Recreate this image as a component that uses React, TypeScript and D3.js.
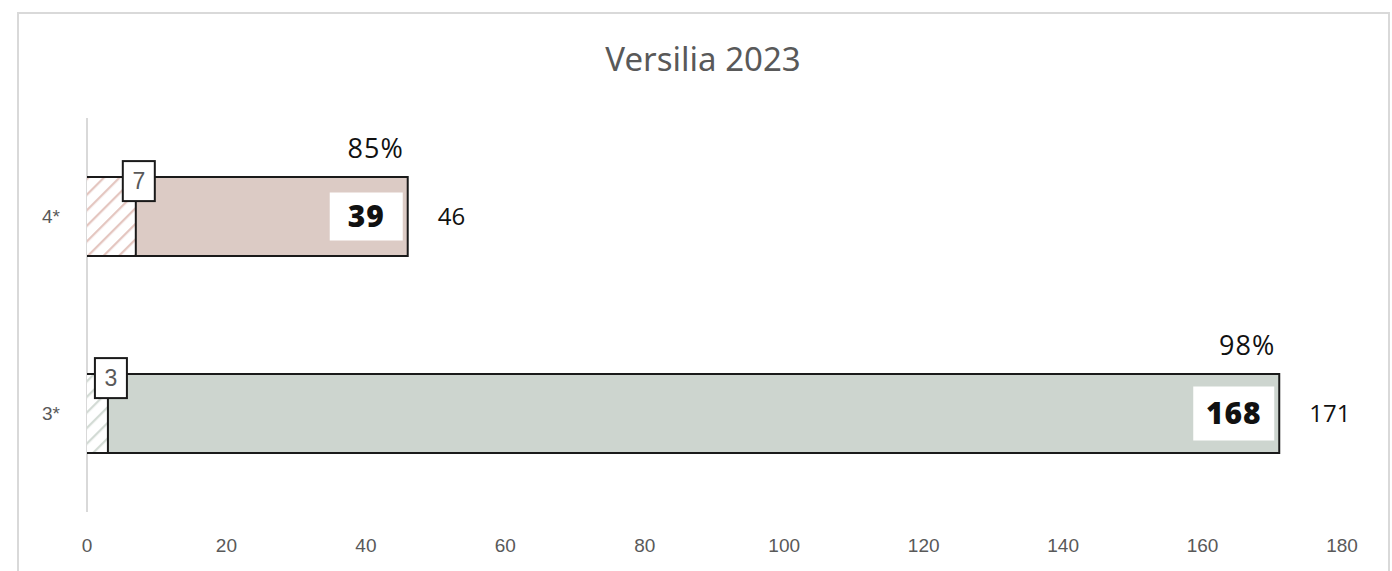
import React from "react";
import * as d3 from "d3";

// Hotel categories and counts
const categories = ["4*", "3*"];
const excludedCounts = [7, 3];
const includedCounts = [39, 168];
const totalCounts = [46, 171];
const xTicks = [0, 20, 40, 60, 80, 100, 120, 140, 160, 180];

const fills = ["#dccbc5", "#cdd5cf"];
const hatchColors = ["#e4c6c0", "#d3dbd5"];

const W = 1392;
const H = 571;

export default function App() {
  const x = d3.scaleLinear().domain([0, 180]).range([87, 1342]);
  const y = d3
    .scaleBand<string>()
    .domain(categories)
    .range([118, 512])
    .paddingInner(0.6)
    .paddingOuter(0.3);
  const bw = y.bandwidth();
  const pctFmt = d3.format(".0%");

  return (
    <div style={{ position: "fixed", left: 0, top: 0 }}>
      <svg width={W} height={H} style={{ display: "block", background: "#fff" }}>
        <defs>
          {categories.map((c, i) => (
            <pattern
              key={c}
              id={`hatch-${i}`}
              patternUnits="userSpaceOnUse"
              width={11}
              height={11}
              patternTransform="rotate(45)"
            >
              <rect width={11} height={11} fill="#fff" />
              <line x1={0} y1={0} x2={0} y2={11} stroke={hatchColors[i]} strokeWidth={4.5} />
            </pattern>
          ))}
        </defs>

        {/* chart frame */}
        <rect x={18} y={13} width={1371} height={H + 20} fill="none" stroke="#d9d9d9" strokeWidth={2} />

        {/* title */}
        <text
          x={703}
          y={71}
          textAnchor="middle"
          fontFamily="'Noto Sans', sans-serif"
          fontSize={33}
          fill="#595959"
        >
          Versilia 2023
        </text>

        {/* category axis line */}
        <line x1={x(0)} x2={x(0)} y1={118} y2={512} stroke="#d9d9d9" strokeWidth={2} />

        {categories.map((c, i) => {
          const top = y(c)!;
          const cy = top + bw / 2;
          const xEx = x(excludedCounts[i]);
          const xEnd = x(totalCounts[i]);
          const inc = includedCounts[i];
          const incStr = String(inc);
          const boxW = 57 + 8 * incStr.length;
          const boxH = 48 + (incStr.length - 2) * 6;
          return (
            <g key={c}>
              {/* category label */}
              <text
                x={60}
                y={cy}
                dy="0.35em"
                textAnchor="end"
                fontFamily="'Liberation Sans', Arial, sans-serif"
                fontSize={19}
                fill="#595959"
              >
                {c}
              </text>
              {/* excluded part (hatched) */}
              <rect
                x={x(0)}
                y={top}
                width={xEx - x(0)}
                height={bw}
                fill={`url(#hatch-${i})`}
              />
              {/* included part */}
              <rect x={xEx} y={top} width={xEnd - xEx} height={bw} fill={fills[i]} />
              {/* outline */}
              <path
                d={`M${x(0)},${top}H${xEnd}V${top + bw}H${x(0)}M${xEx},${top}V${top + bw}`}
                fill="none"
                stroke="#1a1a1a"
                strokeWidth={2}
              />
              {/* percentage */}
              <text
                x={xEnd - 4}
                y={top - 19}
                textAnchor="end"
                fontFamily="'Open Sans', sans-serif"
                fontSize={27}
                letterSpacing={1}
                fill="#111"
              >
                {pctFmt(inc / totalCounts[i])}
              </text>
              {/* included count in white box */}
              <rect
                x={xEnd - 5 - boxW}
                y={cy - boxH / 2}
                width={boxW}
                height={boxH}
                fill="#fff"
              />
              <text
                x={xEnd - 5 - boxW / 2}
                y={cy}
                dy="0.36em"
                textAnchor="middle"
                fontFamily="'Open Sans', sans-serif"
                fontWeight={800}
                fontSize={30}
                letterSpacing={1}
                fill="#111"
              >
                {incStr}
              </text>
              {/* excluded count box */}
              <rect
                x={xEx + 3 - 16}
                y={top + 4 - 20}
                width={32}
                height={40}
                fill="#fff"
                stroke="#1a1a1a"
                strokeWidth={2}
              />
              <text
                x={xEx + 3}
                y={top + 4}
                dy="0.36em"
                textAnchor="middle"
                fontFamily="'Liberation Sans', Arial, sans-serif"
                fontSize={23}
                fill="#595959"
              >
                {excludedCounts[i]}
              </text>
              {/* total */}
              <text
                x={xEnd + 30}
                y={cy}
                dy="0.36em"
                textAnchor="start"
                fontFamily="'Open Sans', sans-serif"
                fontSize={24}
                fill="#111"
              >
                {totalCounts[i]}
              </text>
            </g>
          );
        })}

        {/* value axis tick labels */}
        {xTicks.map((t) => (
          <text
            key={t}
            x={x(t)}
            y={545}
            dy="0.35em"
            textAnchor="middle"
            fontFamily="'Liberation Sans', Arial, sans-serif"
            fontSize={19}
            fill="#595959"
          >
            {t}
          </text>
        ))}
      </svg>
    </div>
  );
}
